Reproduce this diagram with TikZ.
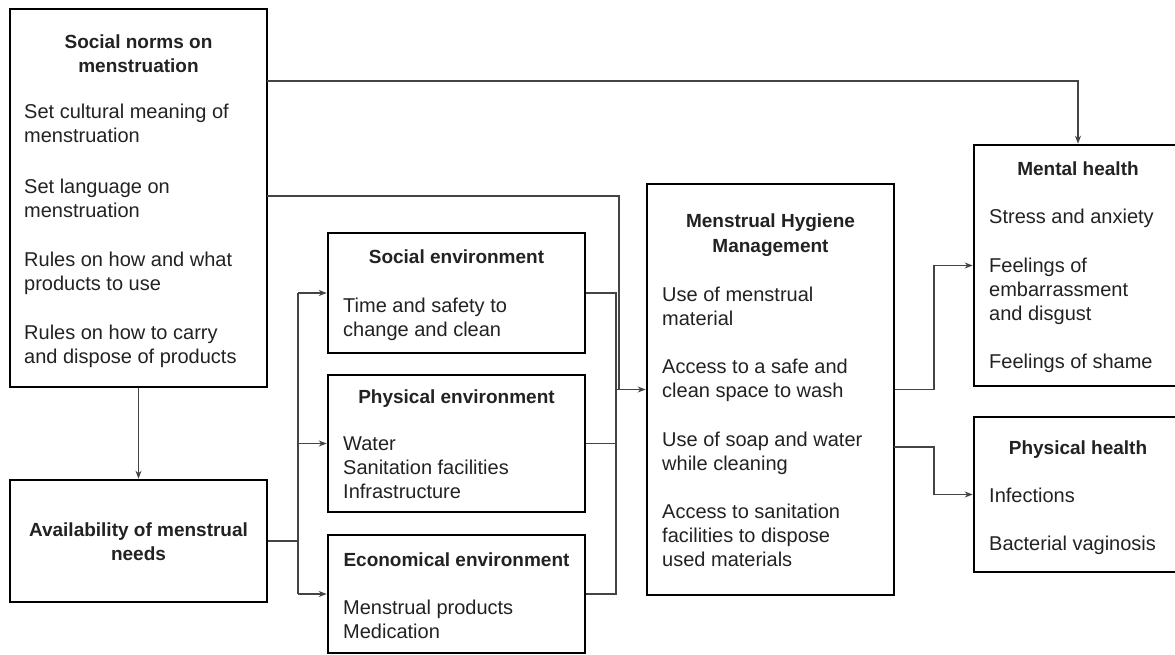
\documentclass[tikz,border=0pt]{standalone}
\usepackage{fontspec}
\setmainfont{Liberation Sans}
\usetikzlibrary{arrows.meta}
\definecolor{txtc}{HTML}{222222}
\definecolor{linec}{HTML}{444444}
\tikzset{
  box/.style={draw=black, line width=2.6pt, fill=white, inner sep=0pt},
  ttl/.style={font=\fontsize{19}{24}\selectfont\bfseries, text=txtc, inner sep=0pt, anchor=base},
  txt/.style={font=\fontsize{20}{24}\selectfont, text=txtc, inner sep=0pt, anchor=base west},
  conn/.style={draw=linec, line width=1.3pt},
  arr/.style={conn, -{Stealth[length=8pt,width=6pt]}}
}
\begin{document}
\begin{tikzpicture}[x=1pt,y=-1pt]
\useasboundingbox[fill=white] (0,0) rectangle (1175,655);

% boxes
\node[box, minimum width=257pt, minimum height=378pt] (sn) at (138.5,198) {};
\node[box, minimum width=257pt, minimum height=122pt] (av) at (138.5,541) {};
\node[box, minimum width=257pt, minimum height=120pt] (se) at (456.5,293) {};
\node[box, minimum width=257pt, minimum height=137pt] (pe) at (456.5,443.5) {};
\node[box, minimum width=257pt, minimum height=118pt] (ee) at (456.5,594) {};
\node[box, minimum width=247pt, minimum height=411pt] (mhm) at (770.5,389.5) {};
\node[box, minimum width=208pt, minimum height=241pt] (mh) at (1078,265.5) {};
\node[box, minimum width=208pt, minimum height=155pt] (ph) at (1078,494.5) {};

% Social norms
\node[ttl] (snt1) at (138.5,49) {Social norms on};
\node[ttl] (snt2) at (138.5,73) {menstruation};
\node[txt] (sn1) at (24,119) {Set cultural meaning of};
\node[txt] (sn2) at (24,143) {menstruation};
\node[txt] (sn3) at (24,194) {Set language on};
\node[txt] (sn4) at (24,218) {menstruation};
\node[txt] (sn5) at (24,266) {Rules on how and what};
\node[txt] (sn6) at (24,290) {products to use};
\node[txt] (sn7) at (24,339) {Rules on how to carry};
\node[txt] (sn8) at (24,363) {and dispose of products};

% Availability
\node[ttl] (avt1) at (138.5,536) {Availability of menstrual};
\node[ttl] (avt2) at (138.5,560) {needs};

% Social environment
\node[ttl] (set) at (456.5,263) {Social environment};
\node[txt] (se1) at (343,312) {Time and safety to};
\node[txt] (se2) at (343,336) {change and clean};

% Physical environment
\node[ttl] (pet) at (456.5,403) {Physical environment};
\node[txt] (pe1) at (343,450) {Water};
\node[txt] (pe2) at (343,474) {Sanitation facilities};
\node[txt] (pe3) at (343,498) {Infrastructure};

% Economical environment
\node[ttl] (eet) at (456.5,566) {Economical environment};
\node[txt] (ee1) at (343,614) {Menstrual products};
\node[txt] (ee2) at (343,638) {Medication};

% MHM
\node[ttl] (mhmt1) at (770.5,228) {Menstrual Hygiene};
\node[ttl] (mhmt2) at (770.5,252) {Management};
\node[txt] (m1) at (662,301) {Use of menstrual};
\node[txt] (m2) at (662,325) {material};
\node[txt] (m3) at (662,373) {Access to a safe and};
\node[txt] (m4) at (662,397) {clean space to wash};
\node[txt] (m5) at (662,446) {Use of soap and water};
\node[txt] (m6) at (662,470) {while cleaning};
\node[txt] (m7) at (662,518) {Access to sanitation};
\node[txt] (m8) at (662,542) {facilities to dispose};
\node[txt] (m9) at (662,566) {used materials};

% Mental health
\node[ttl] (mht) at (1078,176) {Mental health};
\node[txt] (mh1) at (989,224) {Stress and anxiety};
\node[txt] (mh2) at (989,272) {Feelings of};
\node[txt] (mh3) at (989,296) {embarrassment};
\node[txt] (mh4) at (989,320) {and disgust};
\node[txt] (mh5) at (989,368) {Feelings of shame};

% Physical health
\node[ttl] (pht) at (1078,454) {Physical health};
\node[txt] (ph1) at (989,502) {Infections};
\node[txt] (ph2) at (989,550) {Bacterial vaginosis};

% connector coordinates
\coordinate (snA) at (267,81);
\coordinate (snB) at (267,196);
\coordinate (snBx) at (619,196);
\coordinate (snBd) at (619,389.5);
\coordinate (busT) at (616,293);
\coordinate (busM) at (616,389.5);
\coordinate (busB) at (616,594);
\coordinate (lbT) at (298,293);
\coordinate (lbM) at (298,541);
\coordinate (lbP) at (298,443.5);
\coordinate (lbB) at (298,594);
\coordinate (rbA) at (934,389.5);
\coordinate (rbB0) at (894,447);
\coordinate (rbB) at (934,447);

% connectors
\draw[arr] (snA) -| (mh.north);
\draw[conn] (snB) -- (snBx) -- (snBd);
\draw[conn] (se.east) -- (busT) -- (busB) -- (ee.east);
\draw[conn] (pe.east) -- (pe.east -| busT);
\draw[arr] (busM) -- (mhm.west);
\draw[arr] (sn.south) -- (av.north);
\draw[conn] (av.east) -- (lbM);
\draw[conn] (lbT) -- (lbB);
\draw[arr] (lbT) -- (se.west);
\draw[arr] (lbP) -- (pe.west);
\draw[arr] (lbB) -- (ee.west);
\draw[arr] (mhm.east) -- (rbA) |- (mh.west);
\draw[arr] (rbB0) -- (rbB) |- (ph.west);
\end{tikzpicture}
\end{document}
